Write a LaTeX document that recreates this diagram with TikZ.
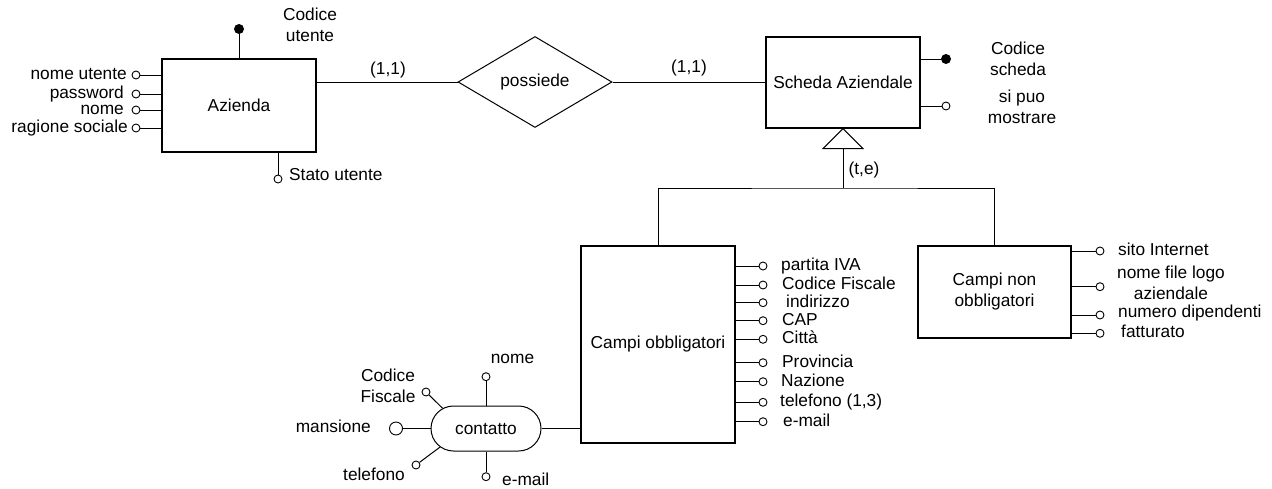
\documentclass[tikz,border=0pt]{standalone}
\usepackage{fontspec}
\setmainfont{Liberation Sans}
\usetikzlibrary{shapes.geometric,shapes.misc}

\begin{document}
\begin{tikzpicture}[x=1pt,y=-1pt,
  font=\fontsize{17.3}{21}\selectfont,
  entity/.style={draw, rectangle, line width=1.1pt, inner sep=2pt, align=center},
  relation/.style={draw, diamond, line width=1pt, inner sep=0pt,
                   minimum width=154pt, minimum height=91pt},
  attr/.style={draw, circle, fill=white, inner sep=0pt, minimum size=8pt, line width=0.9pt},
  keyattr/.style={circle, fill=black, inner sep=0pt, minimum size=10pt},
  lbl/.style={inner sep=0pt, text height=12.5pt, text depth=3.5pt},
  mlbl/.style={inner sep=0pt, align=center},
  link/.style={line width=1pt}]

\useasboundingbox (0,0) rectangle (1272,488);

% ---------------- entities and relationship ----------------
\node[entity, minimum width=154pt, minimum height=93pt]  (az) at (239,105.5) {Azienda};
\node[relation]                                          (ps) at (535,82)    {possiede};
\node[entity, minimum width=154pt, minimum height=91pt]  (sa) at (843,82.5)  {Scheda Aziendale};
\node[entity, minimum width=154pt, minimum height=197pt] (co) at (658,344.5) {Campi obbligatori};
\node[entity, minimum width=153pt, minimum height=92pt]  (cn) at (994.5,292) {Campi non\\obbligatori};
\node[draw, rounded rectangle, line width=1pt, inner sep=0pt,
      minimum width=110pt, minimum height=45pt]          (ct) at (486,428.5) {contatto};

% relationship "possiede"
\draw[link] (az.east |- ps.west) -- (ps.west);
\draw[link] (ps.east) -- (sa.west |- ps.east);
\node[lbl] (card1) at (388,70) {(1,1)};
\node[lbl] (card2) at (689,68) {(1,1)};

% ---------------- generalization ----------------
\draw[link] (sa.south) -- ++(-20,20) -- ++(40,0) -- cycle;
\coordinate (isa) at (843,148);
\coordinate (fork) at (843,188);
\draw[link] (isa) -- (fork);
\draw[link] (co.north) |- (fork) -| (cn.north);
\node[lbl] (cov) at (864,170) {(t,e)};

% ---------------- Azienda attributes ----------------
\node[keyattr] (cu) at (239,29) {};
\draw[link] (az.north) -- (cu);
\node[mlbl] (cu-l) at (310,24.5) {Codice\\utente};

\foreach \n/\y/\t/\xe in {a1/75/nome utente/127, a2/94/password/124,
                          a3/110/nome/124, a4/128/ragione sociale/128}{
  \node[attr] (\n) at (136,\y) {};
  \draw[link] (\n) -- (az.west |- \n);
  \node[lbl, anchor=east] (\n-l) at (\xe,\y) {\t};
}

\node[attr] (su) at (278,179) {};
\draw[link] (su |- az.south) -- (su);
\node[lbl, anchor=west] (su-l) at (289,176) {Stato utente};

% ---------------- Scheda Aziendale attributes ----------------
\node[keyattr] (cs) at (946,59) {};
\draw[link] (sa.east |- cs) -- (cs);
\node[mlbl] (cs-l) at (1018,58.5) {Codice\\scheda};

\node[attr] (sp) at (946,106) {};
\draw[link] (sa.east |- sp) -- (sp);
\node[mlbl] (sp-l) at (1022,107) {si puo\\mostrare};

% ---------------- Campi obbligatori attributes ----------------
\foreach \n/\y/\t/\xw in {o1/266/partita IVA/781, o2/285/Codice Fiscale/782,
                          o3/302.7/indirizzo/786, o4/320.7/CAP/782,
                          o5/339.3/Città/782, o6/362.7/Provincia/782,
                          o7/381.7/Nazione/781, o8/402.3/telefono (1{,}3)/780,
                          o9/421.7/e-mail/783}{
  \node[attr] (\n) at (763,\y) {};
  \draw[link] (co.east |- \n) -- (\n);
  \node[lbl, anchor=west] (\n-l) at (\xw,\y) {\t};
}

% ---------------- Campi non obbligatori attributes ----------------
\node[attr] (n1) at (1100,251) {};
\node[attr] (n2) at (1100,286.7) {};
\node[attr] (n3) at (1100,315) {};
\node[attr] (n4) at (1100,333.3) {};
\foreach \n in {n1,n2,n3,n4}{ \draw[link] (cn.east |- \n) -- (\n); }
\node[lbl, anchor=west] (n1-l) at (1118,251) {sito Internet};
\node[mlbl] (n2-l) at (1171,282.5) {nome file logo\\aziendale};
\node[lbl, anchor=west] (n3-l) at (1118,312.7) {numero dipendenti};
\node[lbl, anchor=west] (n4-l) at (1121,333) {fatturato};

% ---------------- contatto ----------------
\draw[link] (ct.east) -- (co.west |- ct.east);

\node[attr] (cnm) at (486,376.7) {};
\draw[link] (ct.north) -- (cnm);
\node[lbl] (cnm-l) at (512.5,359.3) {nome};

\node[attr] (cem) at (486,476.7) {};
\draw[link] (ct.south) -- (cem);
\node[lbl, anchor=west] (cem-l) at (502,480.7) {e-mail};

\node[attr, minimum size=13pt] (cma) at (396,428.5) {};
\draw[link] (ct.west) -- (cma);
\node[lbl, anchor=east] (cma-l) at (371,428) {mansione};

\node[attr] (ccf) at (426,392) {};
\draw[link] (ct.155) -- (ccf);
\node[mlbl] (ccf-l) at (388,385.7) {Codice\\Fiscale};

\node[attr] (ctl) at (416,465) {};
\draw[link] (ct.202) -- (ctl);
\node[lbl] (ctl-l) at (374,475.7) {telefono};

\end{tikzpicture}
\end{document}
